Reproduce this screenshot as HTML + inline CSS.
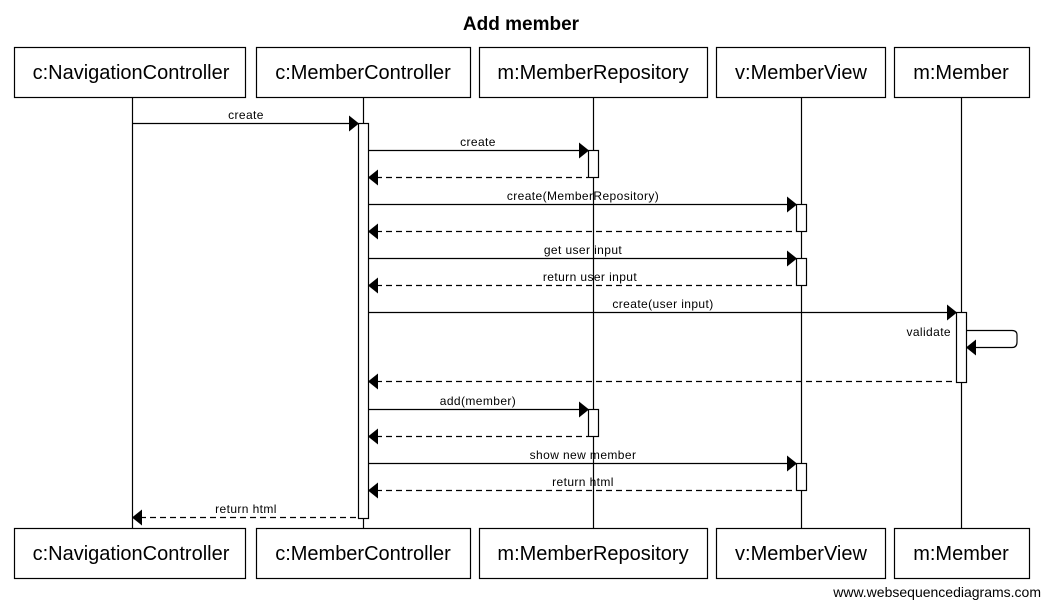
<!DOCTYPE html>
<html><head><meta charset="utf-8"><style>body{margin:0;background:#fff}svg{display:block}</style></head><body>
<svg width="1042" height="601" viewBox="0 0 1042 601" xmlns="http://www.w3.org/2000/svg" font-family="Liberation Sans, sans-serif">
<text x="521" y="30" text-anchor="middle" font-size="19" font-weight="bold">Add member</text>
<g stroke="#000" stroke-width="1.2">
<line x1="132.5" y1="97" x2="132.5" y2="528"/>
<line x1="363.5" y1="97" x2="363.5" y2="528"/>
<line x1="593.5" y1="97" x2="593.5" y2="528"/>
<line x1="801.5" y1="97" x2="801.5" y2="528"/>
<line x1="961.5" y1="97" x2="961.5" y2="528"/>
</g>
<g fill="#fff" stroke="#000" stroke-width="1.2">
<rect x="14.5" y="47.5" width="231" height="50"/><rect x="256.5" y="47.5" width="214" height="50"/><rect x="479.5" y="47.5" width="228" height="50"/><rect x="716.5" y="47.5" width="169" height="50"/><rect x="894.5" y="47.5" width="135" height="50"/>
<rect x="14.5" y="528.5" width="231" height="50"/><rect x="256.5" y="528.5" width="214" height="50"/><rect x="479.5" y="528.5" width="228" height="50"/><rect x="716.5" y="528.5" width="169" height="50"/><rect x="894.5" y="528.5" width="135" height="50"/>
<rect x="358.5" y="123.5" width="10" height="395"/>
<rect x="588.5" y="150.5" width="10" height="27"/>
<rect x="796.5" y="204.5" width="10" height="27"/>
<rect x="796.5" y="258.5" width="10" height="27"/>
<rect x="956.5" y="312.5" width="10" height="70"/>
<rect x="588.5" y="409.5" width="10" height="27"/>
<rect x="796.5" y="463.5" width="10" height="27"/>
</g>
<g font-size="20" text-anchor="middle">
<text x="131" y="79">c:NavigationController</text><text x="363" y="79">c:MemberController</text><text x="593" y="79">m:MemberRepository</text><text x="801" y="79">v:MemberView</text><text x="961" y="79">m:Member</text>
<text x="131" y="560">c:NavigationController</text><text x="363" y="560">c:MemberController</text><text x="593" y="560">m:MemberRepository</text><text x="801" y="560">v:MemberView</text><text x="961" y="560">m:Member</text>
</g>
<g stroke="#000" stroke-width="1.2" fill="none">
<line x1="132" y1="123.5" x2="350" y2="123.5"/>
<line x1="368" y1="150.5" x2="580" y2="150.5"/>
<line x1="376" y1="177.5" x2="588" y2="177.5" stroke-dasharray="6,4"/>
<line x1="368" y1="204.5" x2="788" y2="204.5"/>
<line x1="376" y1="231.5" x2="796" y2="231.5" stroke-dasharray="6,4"/>
<line x1="368" y1="258.5" x2="788" y2="258.5"/>
<line x1="376" y1="285.5" x2="796" y2="285.5" stroke-dasharray="6,4"/>
<line x1="368" y1="312.5" x2="948" y2="312.5"/>
<path d="M966 330.5 H1012 Q1017 330.5 1017 335 V342 Q1017 347.5 1012 347.5 H974"/>
<line x1="376" y1="381.5" x2="956" y2="381.5" stroke-dasharray="6,4"/>
<line x1="368" y1="409.5" x2="580" y2="409.5"/>
<line x1="376" y1="436.5" x2="588" y2="436.5" stroke-dasharray="6,4"/>
<line x1="368" y1="463.5" x2="788" y2="463.5"/>
<line x1="376" y1="490.5" x2="796" y2="490.5" stroke-dasharray="6,4"/>
<line x1="140" y1="517.5" x2="358" y2="517.5" stroke-dasharray="6,4"/>
</g>
<g fill="#000">
<path d="M349 115.5 L359 123.5 L349 131.5Z"/>
<path d="M579 142.5 L589 150.5 L579 158.5Z"/>
<path d="M378 169.5 L368 177.5 L378 185.5Z"/>
<path d="M787 196.5 L797 204.5 L787 212.5Z"/>
<path d="M378 223.5 L368 231.5 L378 239.5Z"/>
<path d="M787 250.5 L797 258.5 L787 266.5Z"/>
<path d="M378 277.5 L368 285.5 L378 293.5Z"/>
<path d="M947 304.5 L957 312.5 L947 320.5Z"/>
<path d="M976 339.5 L966 347.5 L976 355.5Z"/>
<path d="M378 373.5 L368 381.5 L378 389.5Z"/>
<path d="M579 401.5 L589 409.5 L579 417.5Z"/>
<path d="M378 428.5 L368 436.5 L378 444.5Z"/>
<path d="M787 455.5 L797 463.5 L787 471.5Z"/>
<path d="M378 482.5 L368 490.5 L378 498.5Z"/>
<path d="M142 509.5 L132 517.5 L142 525.5Z"/>
</g>
<g font-size="12" text-anchor="middle" letter-spacing="0.4">
<text x="246" y="119">create</text>
<text x="478" y="146">create</text>
<text x="583" y="200">create(MemberRepository)</text>
<text x="583" y="254">get user input</text>
<text x="590" y="281">return user input</text>
<text x="663" y="308">create(user input)</text>
<text x="951" y="336" text-anchor="end">validate</text>
<text x="478" y="405">add(member)</text>
<text x="583" y="459">show new member</text>
<text x="583" y="486">return html</text>
<text x="246" y="513">return html</text>
</g>
<text x="1041" y="597" text-anchor="end" font-size="14">www.websequencediagrams.com</text>
</svg>
</body></html>
